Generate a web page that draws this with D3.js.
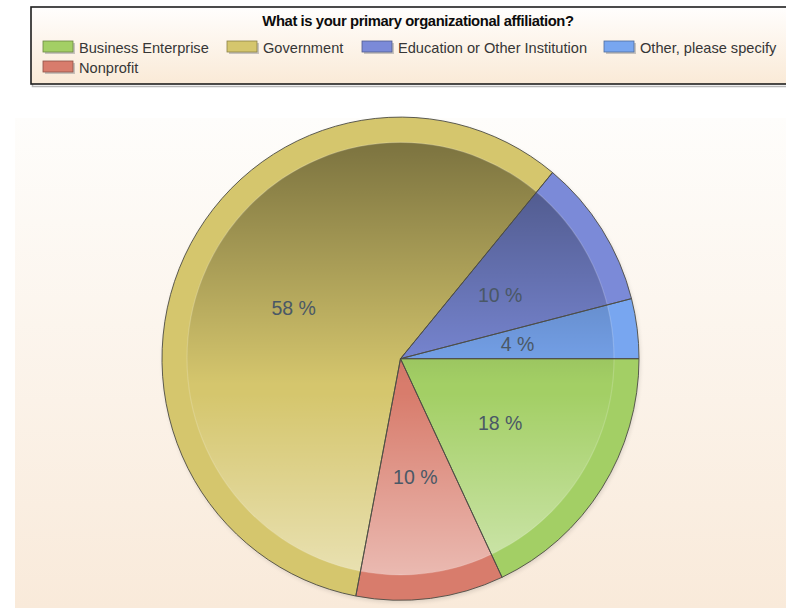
<!DOCTYPE html>
<html>
<head>
<meta charset="utf-8">
<script src="https://cdn.jsdelivr.net/npm/d3@7"></script>
<style>
  html, body { margin: 0; padding: 0; background: #ffffff; }
  svg { display: block; }
</style>
</head>
<body>
<svg id="chart" width="786" height="608"></svg>
<script>
// Survey responses: primary organizational affiliation (percent of respondents)
const title = "What is your primary organizational affiliation?";
const categories = ["Business Enterprise", "Government", "Education or Other Institution", "Other, please specify", "Nonprofit"];
const values = [18, 58, 10, 4, 10];
const colors = ["#a3cf65", "#d5c66d", "#7b8ad8", "#78a6f0", "#d87c6c"];
// order in which slices are laid out clockwise from 3 o'clock
const sliceOrder = ["Business Enterprise", "Nonprofit", "Government", "Education or Other Institution", "Other, please specify"];

const svg = d3.select("#chart");
const defs = svg.append("defs");

// ---------- backgrounds ----------
const panelGrad = defs.append("linearGradient").attr("id", "panelGrad")
  .attr("x1", 0).attr("y1", 0).attr("x2", 0).attr("y2", 1);
panelGrad.append("stop").attr("offset", 0).attr("stop-color", "#fefdfb");
panelGrad.append("stop").attr("offset", 1).attr("stop-color", "#f9eada");

svg.append("rect").attr("x", 15).attr("y", 118).attr("width", 771).attr("height", 490)
  .attr("fill", "url(#panelGrad)");

const legendGrad = defs.append("linearGradient").attr("id", "legendGrad")
  .attr("x1", 0).attr("y1", 0).attr("x2", 0).attr("y2", 1);
legendGrad.append("stop").attr("offset", 0).attr("stop-color", "#fffefd");
legendGrad.append("stop").attr("offset", 1).attr("stop-color", "#faead7");

// legend frame with a soft drop shadow
svg.append("rect").attr("x", 32.5).attr("y", 8.5).attr("width", 760).attr("height", 78)
  .attr("fill", "none").attr("stroke", "#b8b8b8").attr("stroke-width", 1.5);
svg.append("rect").attr("x", 31).attr("y", 7).attr("width", 760).attr("height", 77)
  .attr("fill", "url(#legendGrad)").attr("stroke", "#1e1e1e").attr("stroke-width", 1.6);

svg.append("text")
  .attr("x", 418).attr("y", 26)
  .attr("text-anchor", "middle")
  .attr("font-family", "'Liberation Sans', Arial, sans-serif")
  .attr("font-weight", "bold")
  .attr("font-size", 14.8)
  .attr("letter-spacing", -0.4)
  .attr("fill", "#0c0c0c")
  .text(title);

// legend entries: x of swatch, row index
const legendPos = [
  { x: 43, row: 0 },
  { x: 227, row: 0 },
  { x: 362, row: 0 },
  { x: 604, row: 0 },
  { x: 43, row: 1 }
];
const legend = svg.append("g");
categories.forEach((c, i) => {
  const p = legendPos[i];
  const y = 41 + p.row * 20;
  const g = legend.append("g");
  g.append("rect").attr("x", p.x + 2).attr("y", y + 2).attr("width", 30).attr("height", 11)
    .attr("fill", "#9a9a9a").attr("opacity", 0.55);
  g.append("rect").attr("x", p.x).attr("y", y).attr("width", 30).attr("height", 11)
    .attr("fill", colors[i]).attr("stroke", d3.color(colors[i]).darker(1.2)).attr("stroke-width", 0.8);
  g.append("text").attr("x", p.x + 36).attr("y", y + 12)
    .attr("font-family", "'Liberation Sans', Arial, sans-serif")
    .attr("font-size", 14.6)
    .attr("fill", "#363636")
    .text(c);
});

// ---------- pie ----------
const cx = 400.5, cy = 358.7;
const R = 238.5;
const rim = 25;
const yStretch = 1.013;

const data = sliceOrder.map(name => {
  const i = categories.indexOf(name);
  return { name, value: values[i], color: colors[i] };
});

const pie = d3.pie().value(d => d.value).sort(null)
  .startAngle(Math.PI / 2).endAngle(Math.PI / 2 + 2 * Math.PI);
const arcs = pie(data);

const outerArc = d3.arc().innerRadius(0).outerRadius(R);
const innerArc = d3.arc().innerRadius(0).outerRadius(R - rim);
const labelArc = d3.arc().innerRadius(R * 0.495).outerRadius(R * 0.495);

// shading across the inner disc: darker at the top, lighter toward the bottom
const shade = defs.append("linearGradient").attr("id", "shade")
  .attr("gradientUnits", "userSpaceOnUse")
  .attr("x1", 0).attr("y1", -(R - rim)).attr("x2", 0).attr("y2", R - rim);
shade.append("stop").attr("offset", 0).attr("stop-color", "#000").attr("stop-opacity", 0.42);
shade.append("stop").attr("offset", 0.56).attr("stop-color", "#000").attr("stop-opacity", 0);
shade.append("stop").attr("offset", 0.58).attr("stop-color", "#fff").attr("stop-opacity", 0);
shade.append("stop").attr("offset", 1).attr("stop-color", "#fff").attr("stop-opacity", 0.47);

const shadowFilter = defs.append("filter").attr("id", "pieShadow")
  .attr("x", "-10%").attr("y", "-10%").attr("width", "120%").attr("height", "120%");
shadowFilter.append("feGaussianBlur").attr("stdDeviation", 2);

const pieG = svg.append("g")
  .attr("transform", `translate(${cx},${cy}) scale(1,${yStretch})`);

// faint shadow under the disc
pieG.append("circle").attr("cx", 1).attr("cy", 2).attr("r", R)
  .attr("fill", "#000").attr("opacity", 0.12).attr("filter", "url(#pieShadow)");

// rim colour (full slices)
pieG.selectAll("path.outer").data(arcs).join("path")
  .attr("class", "outer")
  .attr("d", outerArc)
  .attr("fill", d => d.data.color);

// inner slices with the same colour, then shading over them
pieG.selectAll("path.inner").data(arcs).join("path")
  .attr("class", "inner")
  .attr("d", innerArc)
  .attr("fill", d => d.data.color);
pieG.append("circle").attr("r", R - rim).attr("fill", "url(#shade)");
pieG.append("circle").attr("r", R - rim).attr("fill", "none")
  .attr("stroke", "#ffffff").attr("stroke-opacity", 0.18).attr("stroke-width", 1.2);

// slice outlines
pieG.selectAll("path.edge").data(arcs).join("path")
  .attr("class", "edge")
  .attr("d", outerArc)
  .attr("fill", "none")
  .attr("stroke", "#4d4d45")
  .attr("stroke-width", 0.9)
  .attr("stroke-linejoin", "round");

// percentage labels
pieG.selectAll("text.lbl").data(arcs).join("text")
  .attr("class", "lbl")
  .attr("transform", d => {
    const [x, y] = labelArc.centroid(d);
    return `translate(${x},${y}) scale(1,${1 / yStretch})`;
  })
  .attr("text-anchor", "middle")
  .attr("dy", "0.36em")
  .attr("font-family", "'Liberation Sans', Arial, sans-serif")
  .attr("font-size", 19.5)
  .attr("fill", "#4a5866")
  .text(d => `${d.data.value} %`);
</script>
</body>
</html>
